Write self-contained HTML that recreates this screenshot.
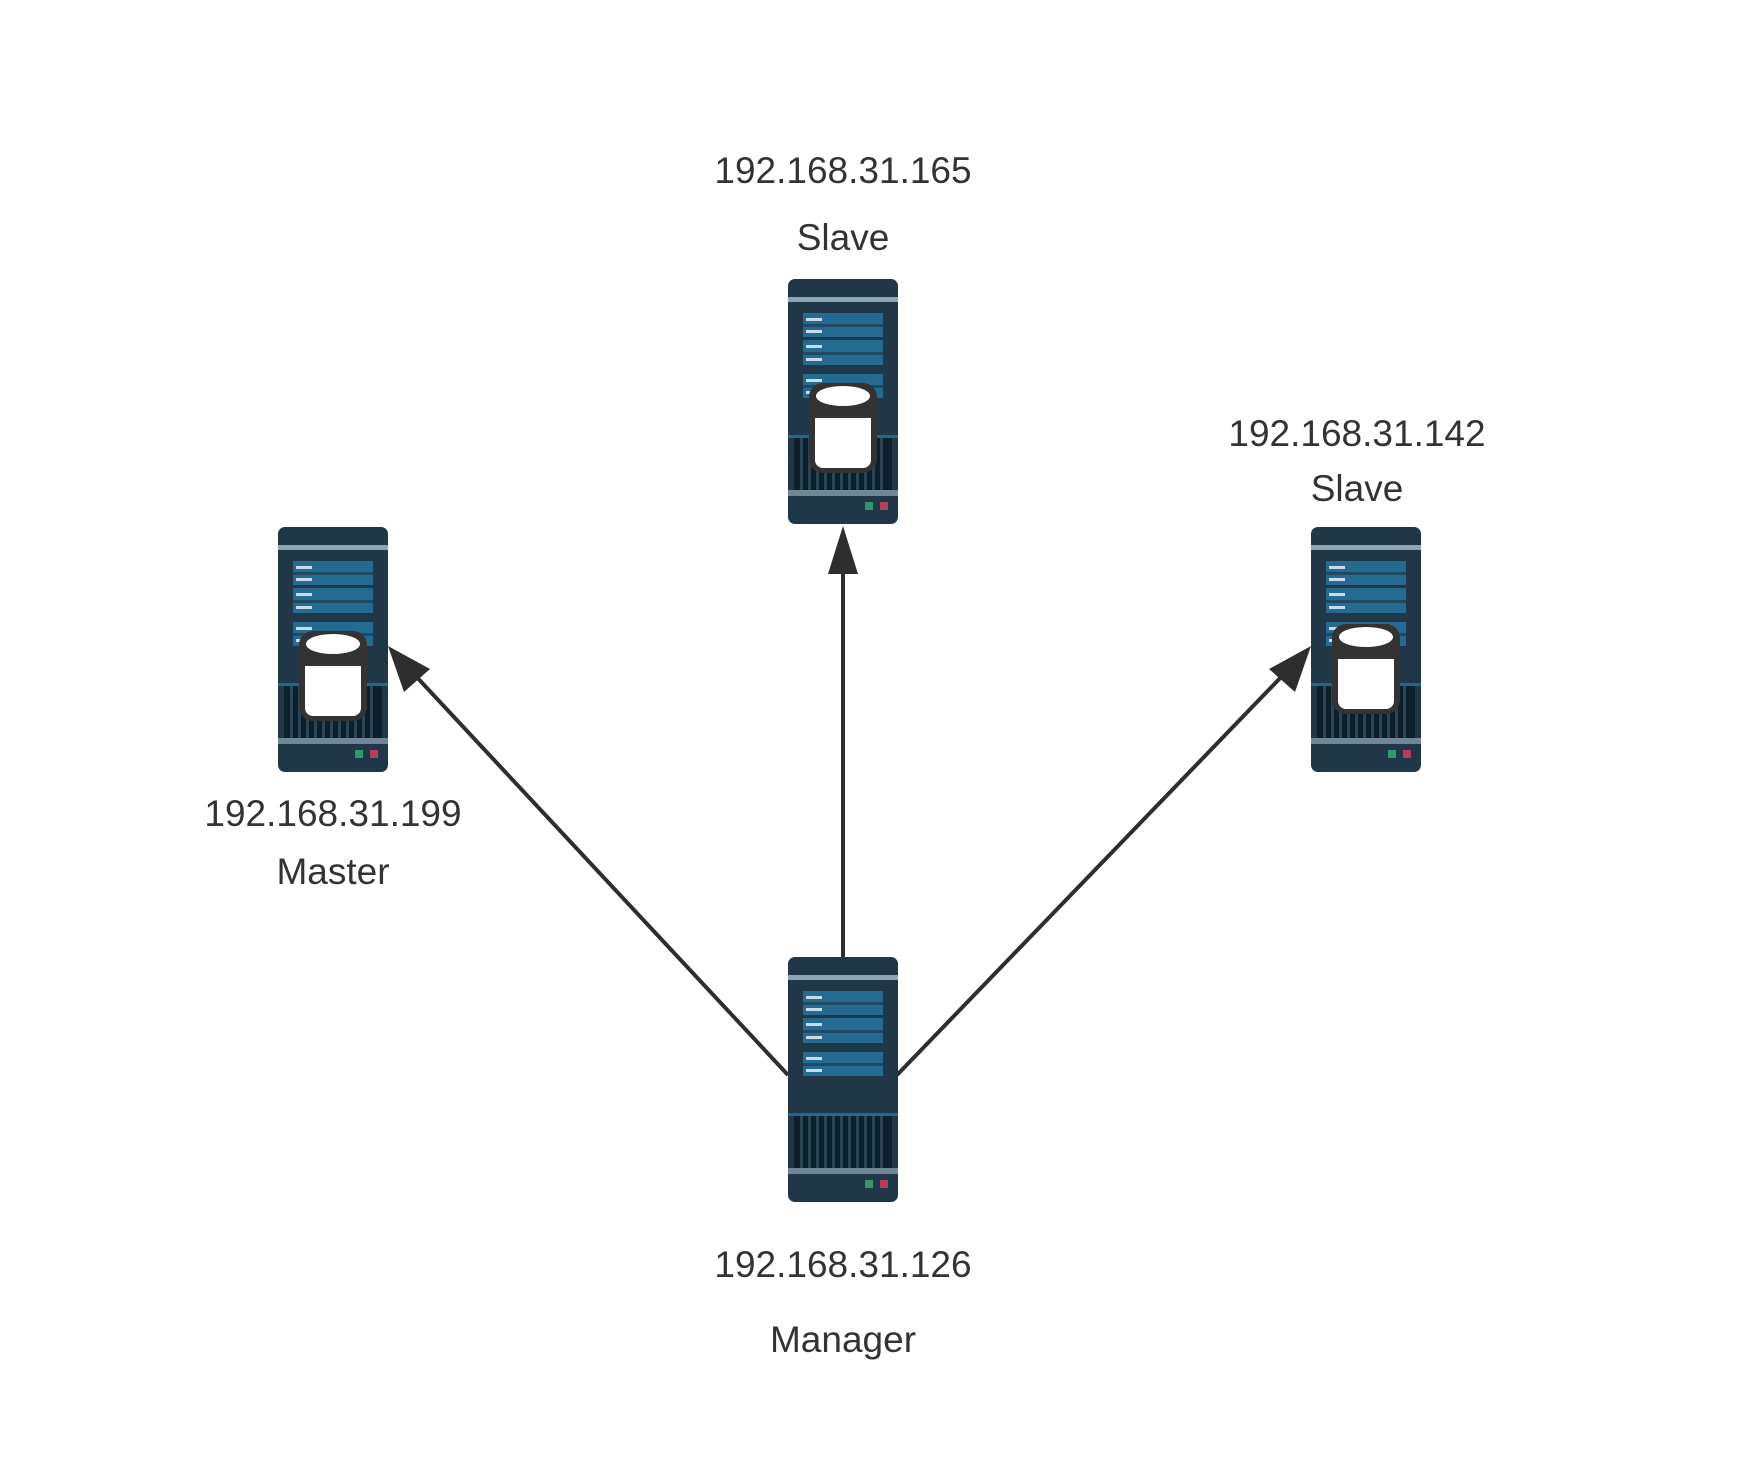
<!DOCTYPE html>
<html><head><meta charset="utf-8"><style>
html,body{margin:0;padding:0;background:#fff;}
svg{display:block;}
text{font-family:"Liberation Sans",sans-serif;font-size:37px;fill:#333;text-anchor:middle;}
</style></head><body>
<svg width="1756" height="1460" viewBox="0 0 1756 1460" xmlns="http://www.w3.org/2000/svg">
<defs>
<g id="srv">
  <rect x="0" y="0" width="110" height="245" rx="7" fill="#1f3746"/>
  <rect x="0" y="18" width="110" height="5" fill="#8fa5b2"/>
  <rect x="15" y="34" width="80" height="24" fill="#256a91"/>
  <rect x="15" y="45" width="80" height="3" fill="#1f4a63"/>
  <rect x="15" y="61" width="80" height="25" fill="#256a91"/>
  <rect x="15" y="73" width="80" height="3" fill="#1f4a63"/>
  <rect x="15" y="95" width="80" height="24" fill="#256a91"/>
  <rect x="15" y="106" width="80" height="3" fill="#1f4a63"/>
  <rect x="18" y="39" width="16" height="3" fill="#c9dbe6"/>
  <rect x="18" y="51" width="16" height="3" fill="#c9dbe6"/>
  <rect x="18" y="66" width="16" height="3" fill="#c9dbe6"/>
  <rect x="18" y="79" width="16" height="3" fill="#c9dbe6"/>
  <rect x="18" y="100" width="16" height="3" fill="#c9dbe6"/>
  <rect x="18" y="112" width="16" height="3" fill="#c9dbe6"/>
  <rect x="0" y="156" width="110" height="3" fill="#1e6a8e"/>
  <rect x="6" y="159" width="98" height="52" fill="#0e1f2c"/>
  <g fill="#2a4656">
    <rect x="12" y="159" width="3" height="52"/><rect x="20" y="159" width="3" height="52"/>
    <rect x="28" y="159" width="3" height="52"/><rect x="36" y="159" width="3" height="52"/>
    <rect x="44" y="159" width="3" height="52"/><rect x="52" y="159" width="3" height="52"/>
    <rect x="60" y="159" width="3" height="52"/><rect x="68" y="159" width="3" height="52"/>
    <rect x="76" y="159" width="3" height="52"/><rect x="84" y="159" width="3" height="52"/>
    <rect x="92" y="159" width="3" height="52"/>
  </g>
  <rect x="0" y="211" width="110" height="6" fill="#6f8794"/>
  <rect x="77" y="223" width="8" height="8" fill="#2e9a6c"/>
  <rect x="92" y="223" width="8" height="8" fill="#b83a5c"/>
</g>
<g id="db">
  <rect x="21" y="104" width="68" height="90" rx="14" fill="#333"/>
  <rect x="27" y="125" width="56" height="64" rx="8" fill="#fff"/>
  <rect x="27" y="125" width="56" height="14" fill="#333"/>
  <ellipse cx="55" cy="117" rx="27" ry="10" fill="#fff"/>
</g>
</defs>

<g stroke="#2e2e2e" stroke-width="4" fill="none">
  <line x1="843" y1="957" x2="843" y2="570"/>
  <line x1="788" y1="1075" x2="412" y2="672"/>
  <line x1="897" y1="1075" x2="1286" y2="672"/>
</g>
<g fill="#2e2e2e">
  <polygon points="843,526 828,574 858,574"/>
  <polygon points="388,646 404,692 430,669"/>
  <polygon points="1311,646 1269,669 1295,692"/>
</g>

<use href="#srv" x="788" y="279"/><use href="#db" x="788" y="279"/>
<use href="#srv" x="278" y="527"/><use href="#db" x="278" y="527"/>
<use href="#srv" x="1311" y="527"/><use href="#db" x="1311" y="520"/>
<use href="#srv" x="788" y="957"/>

<text x="843" y="183">192.168.31.165</text>
<text x="843" y="250">Slave</text>
<text x="1357" y="446">192.168.31.142</text>
<text x="1357" y="501">Slave</text>
<text x="333" y="826">192.168.31.199</text>
<text x="333" y="884">Master</text>
<text x="843" y="1277">192.168.31.126</text>
<text x="843" y="1352">Manager</text>
</svg>
</body></html>
